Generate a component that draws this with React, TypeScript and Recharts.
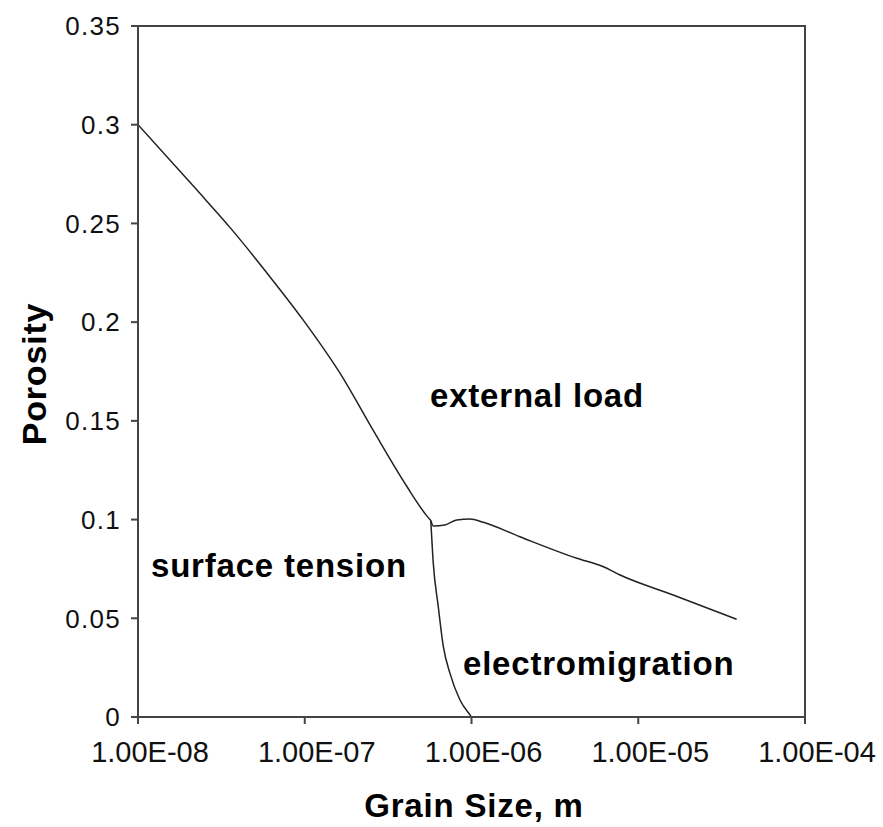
import { LineChart, Line, XAxis, YAxis, ReferenceArea } from "recharts";

// boundary surface tension / external load
const upperX = [1e-8, 2.25e-8, 3.56e-8, 5.92e-8, 9.8e-8, 1.63e-7, 2.58e-7, 4.08e-7, 5.38e-7, 5.7e-7];
const upperY = [0.3, 0.267, 0.248, 0.225, 0.201, 0.174, 0.145, 0.117, 0.102, 0.0995];

// boundary external load / electromigration
const rightX = [5.7e-7, 5.9e-7, 6.93e-7, 8.15e-7, 9.8e-7, 1.18e-6, 1.95e-6, 4.28e-6, 6.18e-6, 7.78e-6, 1.62e-5, 3.89e-5];
const rightY = [0.0995, 0.0968, 0.0973, 0.0998, 0.1003, 0.0986, 0.0913, 0.0804, 0.0761, 0.0719, 0.0618, 0.0495];

// boundary surface tension / electromigration
const dropX = [5.7e-7, 5.9e-7, 6.32e-7, 6.78e-7, 7.43e-7, 8.53e-7, 9.8e-7, 1e-6];
const dropY = [0.0995, 0.0778, 0.0559, 0.0356, 0.0221, 0.0086, 0.001, 0];

// short segment along zero
const floorX = [1e-5, 3.89e-5];
const floorY = [0, 0];

const xTicks = [1e-8, 1e-7, 1e-6, 1e-5, 1e-4];
const yTicks = [0, 0.05, 0.1, 0.15, 0.2, 0.25, 0.3, 0.35];

const toRows = (xs: number[], ys: number[]) => xs.map((x, i) => ({ x, y: ys[i] }));

const fmtSci = (v: number) => {
  const [m, e] = v.toExponential(2).split("e");
  const sign = e[0] === "-" ? "-" : "+";
  const digits = e.replace(/[-+]/, "").padStart(2, "0");
  return `${m}E${sign}${digits}`;
};

const FONT = "'Liberation Sans', Arial, sans-serif";
const LINE = "#222";
const labelStyle = { fontFamily: FONT, fontWeight: "bold" as const, fontSize: 33, letterSpacing: 0.8, fill: "#000" };

export default function App() {
  return (
    <div style={{ position: "absolute", left: 0, top: 0, background: "#fff" }}>
      <LineChart width={883} height={827} margin={{ top: 26, right: 78, bottom: 80, left: 0 }}>
        <XAxis
          type="number"
          dataKey="x"
          scale="log"
          domain={[1e-8, 1e-4]}
          ticks={xTicks}
          allowDataOverflow
          tickFormatter={fmtSci}
          height={30}
          tickSize={7}
          tickMargin={17}
          stroke="#444"
          strokeWidth={2}
          tick={{ fill: "#111", fontSize: 29, fontFamily: FONT, dx: 12 }}
        />
        <YAxis
          type="number"
          dataKey="y"
          domain={[0, 0.35]}
          ticks={yTicks}
          width={138}
          tickSize={7}
          tickMargin={10}
          stroke="#444"
          strokeWidth={2}
          tick={{ fill: "#111", fontSize: 26, fontFamily: FONT, letterSpacing: 1.3 }}
        />
        <ReferenceArea x1={1e-8} x2={1e-4} y1={0} y2={0.35} fill="none" fillOpacity={0} stroke="#444" strokeWidth={2} />
        <Line data={toRows(upperX, upperY)} dataKey="y" type="monotone" stroke={LINE} strokeWidth={1.5} dot={false} isAnimationActive={false} />
        <Line data={toRows(rightX, rightY)} dataKey="y" type="monotone" stroke={LINE} strokeWidth={1.5} dot={false} isAnimationActive={false} />
        <Line data={toRows(dropX, dropY)} dataKey="y" type="monotone" stroke={LINE} strokeWidth={1.5} dot={false} isAnimationActive={false} />
        <Line data={toRows(floorX, floorY)} dataKey="y" type="linear" stroke={LINE} strokeWidth={2} dot={false} isAnimationActive={false} />
        <text x={474} y={817} textAnchor="middle" {...labelStyle}>
          Grain Size, m
        </text>
        <text x={46} y={374} textAnchor="middle" transform="rotate(-90 46 374)" {...labelStyle} fontSize={34}>
          Porosity
        </text>
        <text x={430} y={407} {...labelStyle}>
          external load
        </text>
        <text x={151} y={577} {...labelStyle}>
          surface tension
        </text>
        <text x={463} y={675} {...labelStyle}>
          electromigration
        </text>
      </LineChart>
    </div>
  );
}
